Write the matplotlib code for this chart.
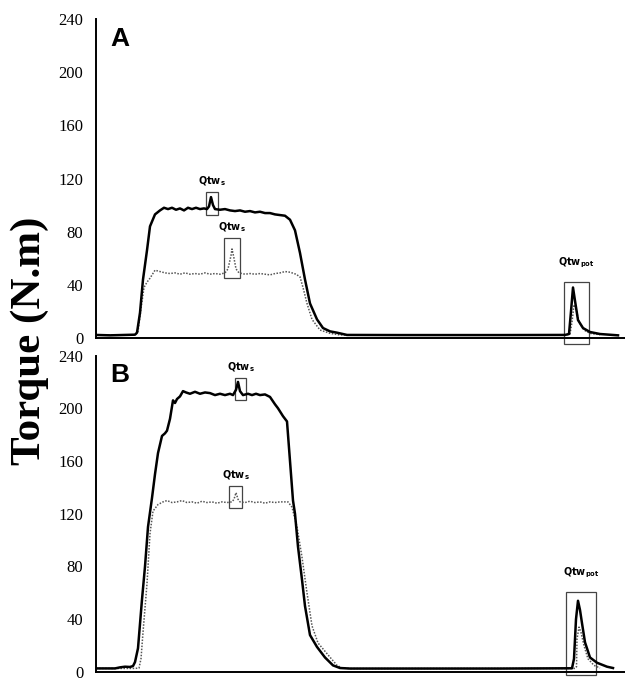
import matplotlib.pyplot as plt
from matplotlib.patches import Rectangle

# sample index (arbitrary time base, no x ticks in the original)
t_a_solid = [96, 110, 125, 135, 137, 140, 143, 147, 150, 155, 160, 164, 168, 172, 176, 180,
             184, 188, 192, 196, 200, 204, 207, 209, 211, 213, 215, 220, 225, 230, 235, 240,
             245, 250, 255, 260, 265, 270, 275, 280, 285, 290, 295, 300, 305, 310, 317, 323,
             330, 337, 347, 400, 500, 565, 569, 571, 573, 575, 578, 583, 590, 600, 618]
y_a_solid = [2.3, 2.0, 2.3, 2.5, 4, 19, 44, 66, 84, 93, 96, 98, 97, 98, 96.5, 97.5,
             96, 98, 97, 98, 97, 97.5, 97, 99, 106, 100, 97, 96.5, 97, 96, 95.5, 96,
             95, 95.5, 94.5, 95, 94, 94, 93, 92.5, 92, 89, 81, 64, 44, 26, 14, 7.5,
             5, 4, 2.3, 2.2, 2.2, 2.3, 3, 20, 38, 28, 13.5, 7.5, 4.5, 3, 2]

t_a_dot = [96, 135, 138, 141, 144, 147, 150, 155, 160, 165, 170, 175, 180, 185, 190, 195,
           200, 205, 210, 215, 220, 225, 228, 231, 232, 234, 236, 239, 245, 250, 255, 260,
           265, 270, 275, 280, 285, 290, 296, 300, 303, 307, 312, 320, 330, 340, 565, 570,
           572, 574, 576, 579, 584, 590, 600]
y_a_dot = [2.2, 2.2, 5, 22, 38, 42, 45, 51, 50, 49, 48.5, 49, 48, 49, 48, 48.5,
           48, 49, 48, 48.5, 48, 49, 52, 62, 67, 60, 52, 49, 48, 48.5, 48, 48.5,
           48, 47.5, 48.5, 49, 50, 49.5, 48, 46, 38, 26, 14, 6, 3.5, 2.3, 2.2, 3,
           12, 25, 22, 12, 6, 3.5, 2.5]

t_b_solid = [96, 115, 120, 125, 130, 133, 135, 138, 142, 145, 148, 152, 155, 158, 162, 165,
             167, 170, 173, 175, 177, 180, 183, 186, 190, 195, 200, 205, 210, 215, 220, 225,
             230, 233, 236, 238, 240, 243, 248, 252, 256, 260, 265, 270, 275, 278, 283, 287,
             288, 290, 293, 295, 298, 302, 305, 310, 317, 325, 333, 340, 350, 500, 572, 574,
             576, 578, 580, 582, 585, 590, 597, 607, 613]
y_b_solid = [2.7, 2.7, 3.5, 4, 3.8, 4.5, 7.5, 18, 55, 80, 110, 132, 150, 166, 179, 181,
             183, 192, 206, 204, 207, 209, 213, 212, 211, 212.5, 211, 212, 211.5, 210, 211, 210,
             211, 210, 214, 220, 213, 210, 211, 210, 211, 210, 210.5, 208.6, 203, 200, 194, 190,
             180, 160, 130, 120, 95, 70, 50, 28, 19, 11, 5, 3, 2.6, 2.6, 2.8, 10,
             40, 54, 47, 37, 22.5, 11, 7, 4, 3]

t_b_dot = [96, 135, 139, 141, 143, 147, 150, 153, 158, 163, 167, 172, 177, 182, 187, 192,
           197, 202, 207, 212, 217, 222, 227, 232, 234, 236, 238, 240, 245, 250, 255, 260,
           265, 270, 275, 280, 285, 288, 292, 297, 302, 307, 312, 318, 328, 337, 342, 350,
           575, 576.5, 577, 579, 581, 584, 588, 594, 600]
y_b_dot = [2.7, 2.7, 3, 10, 30, 67, 105, 122, 127, 129, 130, 128.5, 129, 130, 128.5, 129,
           128, 129.5, 128.5, 129, 128, 129, 128.5, 129, 131, 136, 131, 129, 128.5, 129.5, 128.5, 129,
           128, 129, 128.5, 129, 129, 129, 125, 110, 87, 60, 35, 22, 13, 5, 3, 2.6,
           2.7, 4, 25, 34, 30, 20, 10, 5, 3]

# twitch boxes: (centre sample, half width, bottom, top, subscript)
boxes_a = [(212, 6, 92.5, 110, 's'), (232, 8, 45, 75, 's'), (576.5, 12.5, -4.5, 42, 'pot')]
boxes_b = [(240.5, 5.5, 206, 223, 's'), (235.5, 6.5, 124, 141, 's'), (581, 15, -2, 60.5, 'pot')]

yticks = [0, 40, 80, 120, 160, 200, 240]

fig = plt.figure(figsize=(6.25, 6.82), dpi=100)
ax_a = fig.add_axes([0.1536, 0.5044, 0.8464, 0.4677])
ax_b = fig.add_axes([0.1536, 0.0147, 0.8464, 0.4640])

panels = [(ax_a, t_a_solid, y_a_solid, t_a_dot, y_a_dot, boxes_a, 'A'),
          (ax_b, t_b_solid, y_b_solid, t_b_dot, y_b_dot, boxes_b, 'B')]

for ax, ts, ys, td, yd, boxes, letter in panels:
    ax.plot(td, yd, color='#555555', lw=1.1, ls=(0, (1, 1)))
    ax.plot(ts, ys, color='black', lw=1.8)
    for c, hw, lo, hi, sub in boxes:
        ax.add_patch(Rectangle((c - hw, lo), 2 * hw, hi - lo, fill=False,
                               edgecolor='#444444', lw=0.9, clip_on=False))
        off = 9 if sub == 'pot' else 3
        ax.annotate(r'$\mathbf{Qtw}_{\mathbf{' + sub + '}}$', (c, hi),
                    xytext=(0, off), textcoords='offset points',
                    ha='center', va='bottom', fontsize=7)
    ax.set_xlim(96, 625)
    ax.set_ylim(0, 240)
    ax.set_yticks(yticks)
    ax.set_xticks([])
    ax.tick_params(axis='y', length=0, pad=9)
    for lab in ax.get_yticklabels():
        lab.set_fontfamily('Liberation Serif')
        lab.set_fontsize(12)
    ax.spines['top'].set_visible(False)
    ax.spines['right'].set_visible(False)
    ax.spines['left'].set_linewidth(1.4)
    ax.spines['bottom'].set_linewidth(1.4)
    ax.text(0.027, 0.975, letter, transform=ax.transAxes, fontsize=19,
            fontweight='bold', family='Liberation Sans', va='top', ha='left')

fig.text(0.048, 0.5, 'Torque (N.m)', rotation=90, ha='center', va='center',
         fontsize=31, fontweight='bold', family='Liberation Serif')

fig.savefig('out.png', dpi=100)
